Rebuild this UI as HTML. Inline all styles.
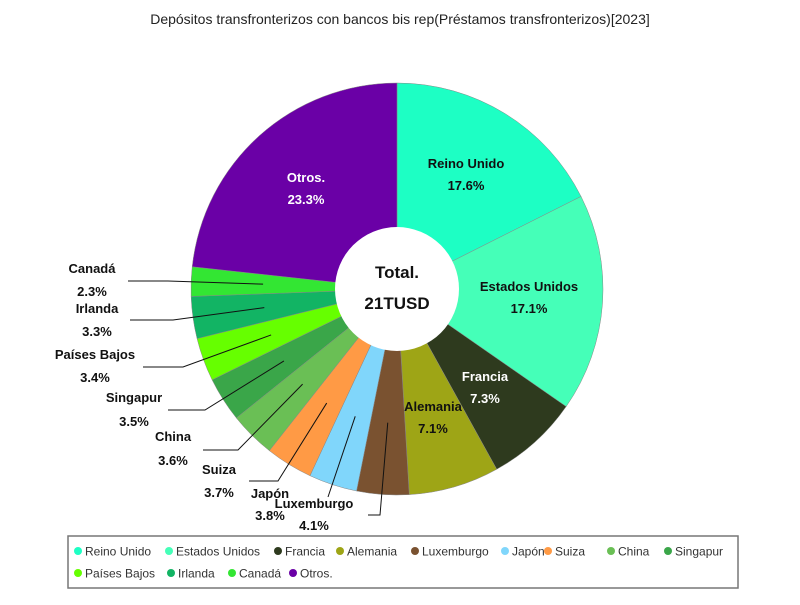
<!DOCTYPE html>
<html><head><meta charset="utf-8"><style>
body{margin:0;background:#fff;}
svg{font-family:"Liberation Sans",sans-serif;}
</style></head><body>
<svg id="c" width="800" height="600">
<text x="400" y="24" text-anchor="middle" font-size="14" fill="#222">Depósitos transfronterizos con bancos bis rep(Préstamos transfronterizos)[2023]</text>
<g id="slices"></g>
<g id="labels"></g>
<circle cx="397" cy="289" r="62" fill="#fff"/>
<text x="397" y="278" text-anchor="middle" font-size="17" font-weight="bold" fill="#111">Total.</text>
<text x="397" y="309" text-anchor="middle" font-size="17" font-weight="bold" fill="#111">21TUSD</text>
<rect x="68" y="536" width="670" height="52" fill="#fff" stroke="#777" stroke-width="1.5"/>
<g id="legend"></g>
</svg>
<script>
const categories=["Reino Unido","Estados Unidos","Francia","Alemania","Luxemburgo","Japón","Suiza","China","Singapur","Países Bajos","Irlanda","Canadá","Otros."];
const values=[17.6,17.1,7.3,7.1,4.1,3.8,3.7,3.6,3.5,3.4,3.3,2.3,23.3];
const labels=["17.6%","17.1%","7.3%","7.1%","4.1%","3.8%","3.7%","3.6%","3.5%","3.4%","3.3%","2.3%","23.3%"];
const colors=["#1dffc4","#45ffb8","#2e3a1e","#9ea516","#7a5230","#80d6fb","#ff9a45","#6abf55","#3aa649","#66ff00","#12b464","#33e633","#6a00a6"];
const NS="http://www.w3.org/2000/svg";
const cx=397,cy=289,R=206;
const total=values.reduce((a,b)=>a+b,0);
function pt(a,r){return [cx+r*Math.sin(a),cy-r*Math.cos(a)];}
function el(t,attrs,parent){const e=document.createElementNS(NS,t);for(const k in attrs)e.setAttribute(k,attrs[k]);parent.appendChild(e);return e;}
const gS=document.getElementById('slices'),gL=document.getElementById('labels'),gLeg=document.getElementById('legend');
// label layout: inside [x,y,color] or outside [tx,nameY,pctY,hx,ex,ey]
const inside={0:[466,168,"#111"],1:[529,291,"#111"],2:[485,381,"#fff"],3:[433,411,"#111"],12:[306,182,"#fff"]};
const outside={4:[314,508,530,368,380,515],5:[270,498,520,null,328,497],6:[219,474,497,249,278,481],7:[173,441,465,203,238,450],8:[134,402,426,168,205,410],9:[95,359,382,143,183,367],10:[97,313,336,130,173,320],11:[92,273,296,128,168,281]};
let a0=0;
values.forEach((v,i)=>{
  const a1=a0+v/total*2*Math.PI;
  const p0=pt(a0,R),p1=pt(a1,R);
  const large=(a1-a0)>Math.PI?1:0;
  const p=el('path',{d:`M${cx},${cy}L${p0[0]},${p0[1]}A${R},${R} 0 ${large} 1 ${p1[0]},${p1[1]}Z`,fill:colors[i],stroke:"#888","stroke-width":0.5},gS);
  
  
  const am=(a0+a1)/2;
  if(inside[i]){
    const [x,y,c]=inside[i];
    const t1=el('text',{x:x,y:y,"text-anchor":"middle","font-size":13,"font-weight":"bold",fill:c},gL);t1.textContent=categories[i];
    
    
    const t2=el('text',{x:x,y:y+22,"text-anchor":"middle","font-size":13,"font-weight":"bold",fill:c},gL);t2.textContent=labels[i];
    
    
  } else {
    const [tx,ny,py,hx,ex,ey]=outside[i];
    const s=pt(am,134);
    const d=hx!==null?`M${s[0]},${s[1]}L${ex},${ey}L${hx},${ey}`:`M${s[0]},${s[1]}L${ex},${ey}`;
    const l=el('path',{d:d,fill:"none",stroke:"#111","stroke-width":1},gL);
    
    
    const t1=el('text',{x:tx,y:ny,"text-anchor":"middle","font-size":13,"font-weight":"bold",fill:"#111"},gL);t1.textContent=categories[i];
    
    
    const t2=el('text',{x:tx,y:py,"text-anchor":"middle","font-size":13,"font-weight":"bold",fill:"#111"},gL);t2.textContent=labels[i];
    
    
  }
  a0=a1;
});
const legPos=[[78,551],[169,551],[278,551],[340,551],[415,551],[505,551],[548,551],[611,551],[668,551],[78,573],[171,573],[232,573],[293,573]];
categories.forEach((c,i)=>{
  const g=el('g',{},gLeg);
  
  
  const [x,y]=legPos[i];
  el('circle',{cx:x,cy:y,r:4,fill:colors[i]},g);
  const t=el('text',{x:x+7,y:y+4.5,"font-size":12,fill:"#333"},g);t.textContent=c;
});
</script>
</body></html>
